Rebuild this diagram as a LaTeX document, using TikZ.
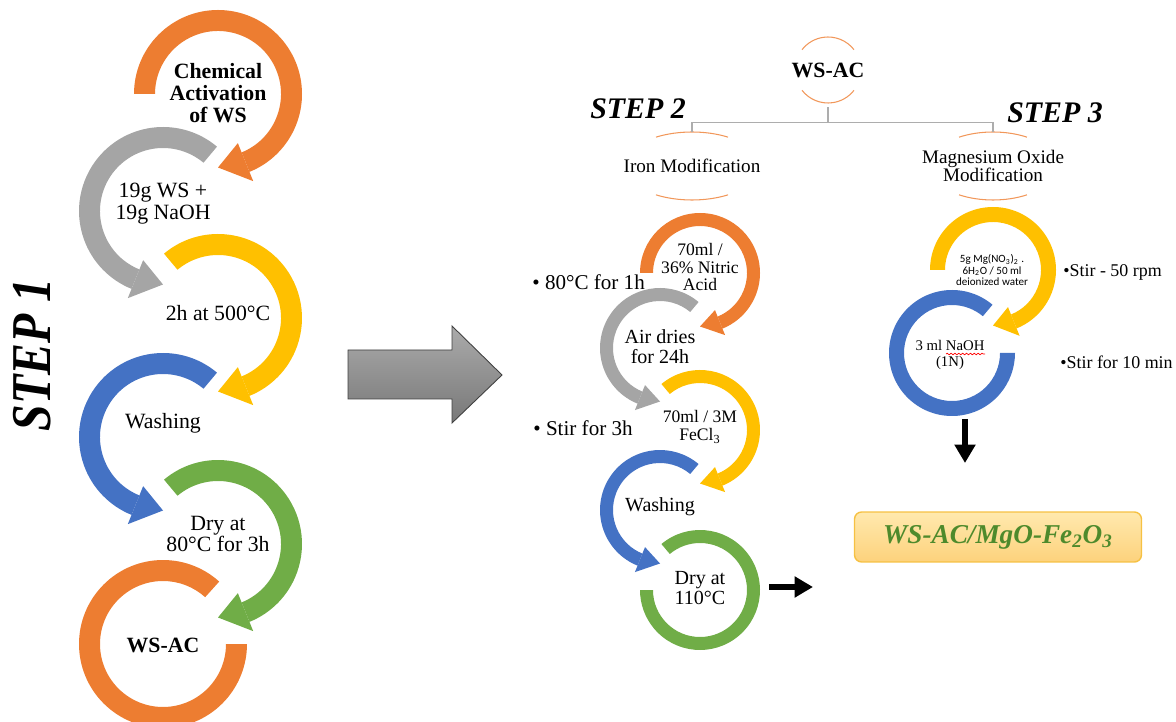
\documentclass[tikz,border=0pt]{standalone}
\usepackage{fontspec}
\setmainfont{Liberation Serif}
\newfontfamily\calibrilike{Carlito}
\usetikzlibrary{arrows.meta,calc,shapes.geometric,decorations.pathmorphing}

\definecolor{ringorange}{HTML}{ED7D31}
\definecolor{ringgray}{HTML}{A5A5A5}
\definecolor{ringyellow}{HTML}{FFC000}
\definecolor{ringblue}{HTML}{4472C4}
\definecolor{ringgreen}{HTML}{70AD47}
\definecolor{boxtop}{HTML}{FFE9AE}
\definecolor{boxbottom}{HTML}{FDD27C}
\definecolor{boxedge}{HTML}{F6C143}
\definecolor{prodgreen}{HTML}{4E8A2C}

\newcommand{\ringband}[6]{%
  \fill[#1] ($(#2)+(#3:#5)$) arc[start angle=#3, end angle=#4, radius=#5]
    -- ($(#2)+(#4:#6)$) arc[start angle=#4, end angle=#3, radius=#6] -- cycle;}
\newcommand{\ringhead}[7]{%
  \fill[#1] ($(#2)+(#3:{#5+#7})$) -- ($(#2)+(#4:{(#5+#6)/2})$)
    -- ($(#2)+(#3:{#6-#7})$) -- cycle;}

\begin{document}
\begin{tikzpicture}[
  x=0.02cm, y=0.02cm,
  txt/.style={align=center, inner sep=0pt, font=\fontsize{12.4}{12.4}\selectfont},
  boldtxt/.style={txt, font=\fontsize{12.4}{12.4}\selectfont\bfseries},
  midtxt/.style={txt, font=\fontsize{11.4}{11.4}\selectfont},
  smalltxt/.style={txt, font=\fontsize{10}{10}\selectfont},
  tinytxt/.style={txt, font=\fontsize{8.4}{8.6}\selectfont},
  mgtxt/.style={txt, font=\calibrilike\fontsize{6.3}{6.6}\selectfont},
  note/.style={txt, anchor=west, font=\fontsize{12}{12}\selectfont},
  smallnote/.style={txt, anchor=west, font=\fontsize{10.2}{10.2}\selectfont},
  steptitle/.style={inner sep=0pt, font=\fontsize{17}{17}\selectfont\bfseries\itshape},
  wsacnode/.style={circle, inner sep=0pt, minimum size=1.32cm, font=\fontsize{12.4}{12.4}\selectfont\bfseries},
  branchnode/.style={ellipse, inner sep=0pt, align=center, minimum width=2.72cm, minimum height=1.36cm,
    font=\fontsize{10.9}{10.4}\selectfont},
  thinarc/.style={draw=ringorange!80, line width=0.6pt},
  branch/.style={draw=black!32, line width=0.8pt},
  blackarrow/.style={-{Triangle[length=10.5pt,width=11.5pt]}, line width=3.4pt},
  product/.style={draw=boxedge, line width=0.8pt, rounded corners=4pt, top color=boxtop, bottom color=boxbottom,
    minimum width=5.74cm, minimum height=1cm, text=prodgreen, font=\fontsize{15.5}{15.5}\selectfont\bfseries\itshape}
]
  \useasboundingbox (0,0) rectangle (1176,-722);

  \coordinate (orangeA) at (218,-94);
  \coordinate (grayA) at (163,-211);
  \coordinate (yellowA) at (218,-318);
  \coordinate (blueA) at (163,-437);
  \coordinate (greenA) at (218,-544);
  \coordinate (orangeB) at (163,-644);

  \ringband{ringorange}{orangeA}{180}{-68}{84}{63}
  \ringhead{ringorange}{orangeA}{-68}{-90}{84}{63}{10}
  \ringband{ringgray}{grayA}{50}{248}{84}{63}
  \ringhead{ringgray}{grayA}{248}{270}{84}{63}{10}
  \ringband{ringyellow}{yellowA}{130}{-68}{84}{63}
  \ringhead{ringyellow}{yellowA}{-68}{-90}{84}{63}{10}
  \ringband{ringblue}{blueA}{50}{248}{84}{63}
  \ringhead{ringblue}{blueA}{248}{270}{84}{63}{10}
  \ringband{ringgreen}{greenA}{130}{-68}{84}{63}
  \ringhead{ringgreen}{greenA}{-68}{-90}{84}{63}{10}
  \ringband{ringorange}{orangeB}{48}{360}{84}{63}

  \node[boldtxt] (activation) at (218,-93) {Chemical\\Activation\\of WS};
  \node[txt] (mixing) at (163,-204) {19g WS +\\19g NaOH};
  \node[txt] (heating) at (218,-313) {2h at 500°C};
  \node[txt] (washA) at (163,-423) {Washing};
  \node[txt] (dryA) at (218,-534) {Dry at\\80°C for 3h};
  \node[boldtxt] (wsacA) at (163,-645) {WS-AC};

  \node[steptitle, font=\fontsize{32}{32}\selectfont\bfseries\itshape, rotate=90, xscale=0.85] (stepone) at (32,-355) {STEP 1};

  \shade[draw=black!75, line width=0.5pt, top color=black!33, bottom color=black!53]
    (348,-350) -- (452,-350) -- (452,-326) -- (502,-375) -- (452,-423) -- (452,-399) -- (348,-399) -- cycle;

  \node[wsacnode] (wsac) at (828,-70) {WS-AC};
  \node[branchnode] (iron) at (692,-166) {Iron Modification};
  \node[branchnode, minimum width=2.56cm] (mgo) at (993,-166) {Magnesium Oxide\\Modification};
  \draw[thinarc] ($(wsac)+(38:33)$) arc[start angle=38, end angle=142, radius=33];
  \draw[thinarc] ($(wsac)+(218:33)$) arc[start angle=218, end angle=322, radius=33];
  \draw[thinarc] ($(iron)+(58:68 and 34)$) arc[start angle=58, end angle=122, x radius=68, y radius=34];
  \draw[thinarc] ($(iron)+(238:68 and 34)$) arc[start angle=238, end angle=302, x radius=68, y radius=34];
  \draw[thinarc] ($(mgo)+(58:64 and 34)$) arc[start angle=58, end angle=122, x radius=64, y radius=34];
  \draw[thinarc] ($(mgo)+(238:64 and 34)$) arc[start angle=238, end angle=302, x radius=64, y radius=34];
  \draw[branch] (wsac.south) -- ++(0,-15) -| (iron.north);
  \draw[branch] (wsac.south) -- ++(0,-15) -| (mgo.north);

  \node[steptitle] (steptwo) at (638,-109) {STEP 2};
  \node[steptitle] (stepthree) at (1055,-113) {STEP 3};

  \coordinate (orangeC) at (700,-273);
  \coordinate (grayC) at (660,-348);
  \coordinate (yellowC) at (700,-430);
  \coordinate (blueC) at (660,-510);
  \coordinate (greenC) at (700,-590);

  \ringband{ringorange}{orangeC}{180}{-68}{60}{47}
  \ringhead{ringorange}{orangeC}{-68}{-90}{60}{47}{7}
  \ringband{ringgray}{grayC}{50}{248}{60}{47}
  \ringhead{ringgray}{grayC}{248}{270}{60}{47}{7}
  \ringband{ringyellow}{yellowC}{130}{-68}{60}{47}
  \ringhead{ringyellow}{yellowC}{-68}{-90}{60}{47}{7}
  \ringband{ringblue}{blueC}{50}{248}{60}{47}
  \ringhead{ringblue}{blueC}{248}{270}{60}{47}{7}
  \ringband{ringgreen}{greenC}{130}{-180}{60}{47}

  \node[smalltxt] (nitric) at (700,-267) {70ml /\\36\% Nitric\\Acid};
  \node[midtxt] (airdry) at (660,-347) {Air dries\\for 24h};
  \node[smalltxt] (ferric) at (700,-427) {70ml / 3M\\FeCl\textsubscript{3}};
  \node[midtxt] (washC) at (660,-507) {Washing};
  \node[midtxt] (dryC) at (700,-588) {Dry at\\110°C};
  \node[note] (heatnote) at (532,-282) {• 80°C for 1h};
  \node[note] (stirnote) at (533,-428) {• Stir for 3h};

  \coordinate (dryexit) at (769,-587);
  \coordinate (dryarrow) at (813,-587);
  \draw[blackarrow] (dryexit) -- (dryarrow);

  \coordinate (yellowD) at (993,-270);
  \coordinate (blueD) at (952,-353);
  \ringband{ringyellow}{yellowD}{180}{-68}{63}{48}
  \ringhead{ringyellow}{yellowD}{-68}{-90}{63}{48}{8}
  \ringband{ringblue}{blueD}{50}{360}{63}{48}

  \node[mgtxt] (mgsolution) at (992,-270) {5g Mg(NO\textsubscript{3})\textsubscript{2} .\\6H\textsubscript{2}O / 50 ml\\deionized water};
  \node[tinytxt] (naoh) at (950,-355) {3 ml NaOH\\(1N)};
  \draw[red, line width=0.4pt, decorate, decoration={snake, amplitude=0.45pt, segment length=2.2pt}]
    (946,-354) -- (985,-354);
  \node[smallnote] (rpmnote) at (1063,-272) {•Stir - 50 rpm};
  \node[smallnote] (tennote) at (1060,-362) {•Stir for 10 min};

  \coordinate (naohexit) at (965,-419);
  \coordinate (naoharrow) at (965,-463);
  \draw[blackarrow] (naohexit) -- (naoharrow);

  \node[product] (prodbox) at (998,-537) {WS-AC/MgO-Fe\textsubscript{2}O\textsubscript{3}};
\end{tikzpicture}
\end{document}
